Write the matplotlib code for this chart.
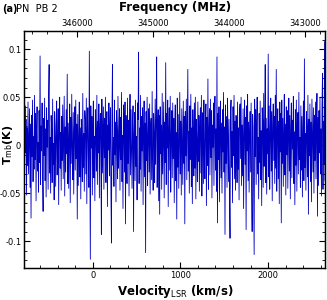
import numpy as np
import matplotlib
matplotlib.use("Agg")
import matplotlib.pyplot as plt
from matplotlib.ticker import MultipleLocator

# spectrum values (mK), one per channel
tmb_mk = [
    12, -35, 41, -8, 27, -52, 18, -21, 45, -30,
    5, 38, -44, 22, -76, 31, -12, 47, -38, 9,
    -25, 52, -15, 33, -58, 14, 40, -27, 3, -49,
    36, -18, 93, -41, 20, -6, 44, -33, -69, 28,
    -11, 49, -37, 17, -54, 39, -2, 26, -46, 55,
    84, -29, 8, -50, 31, 16, -39, 48, -20, 2,
    -57, 35, 21, -43, 10, 46, -31, -7, 38, -62,
    24, 50, -24, 13, -47, 30, -16, 42, -35, 6,
    51, -53, 19, -28, 37, -9, 74, -40, 23, -45,
    11, 43, -60, 29, -19, 53, -4, -36, 34, -51,
    15, 40, -26, 47, -14, 22, -77, 32, -42, 7,
    45, -33, 18, -56, 27, 3, -38, 54, -23, 12,
    -48, 36, 25, -30, 49, -61, 16, 39, -12, -44,
    98, -22, -119, 41, -3, 30, -52, 20, 46, -34,
    9, -58, 37, 14, -27, 52, -41, 25, -8, 43,
    -55, 19, 33, -17, -93, 48, -29, 6, 40, -46,
    28, -13, 50, -39, 11, 35, -64, 21, -5, 44,
    -32, 17, 39, -49, -102, 30, 84, -21, 8, -43,
    47, -10, 24, -59, 36, 13, -35, 51, -24, 2,
    38, -47, 29, -15, 55, -38, 10, -66, 42, 20,
    -28, 45, -82, 31, 4, -40, 49, -19, 26, -53,
    16, 53, -31, 37, -8, -45, 22, 41, -90, 12,
    34, -37, 47, -22, 9, -57, 44, 27, 97, -40,
    18, -25, 52, -48, 30, -6, 39, -62, 14, 46,
    -33, 23, -112, 35, -16, 50, -42, 7, 38, -28,
    43, -51, 19, 28, -36, 56, -12, -47, 33, 11,
    -39, 48, -20, 26, 92, -44, 15, 37, -58, 31,
    -72, 40, -9, 21, -46, 54, -30, 12, 45, -55,
    24, -18, 86, -41, 33, -3, 47, -64, 17, 39,
    -26, 51, -49, 10, 36, -34, 44, -14, 28, -60,
    20, 42, -37, 13, -77, 49, -23, 32, -45, 6,
    55, -30, 25, -52, 38, 1, -41, 46, -19, 30,
    -82, 35, -11, 48, -36, 22, 79, -27, 14, -50,
    41, -15, 53, -43, 18, -61, 37, 9, -32, 44,
    -24, 50, -56, 27, 3, -38, 45, -17, 31, -48,
    16, 39, -29, 52, -53, 11, 34, -40, 47, -8,
    -35, 24, 43, -63, 29, -21, 69, -46, 15, 38,
    -31, 48, -13, 36, -55, 21, -2, 44, -42, 26,
    51, -26, 17, -48, 92, -81, 33, -15, 40, -59,
    8, 46, -34, 23, -50, 37, -7, 55, -28, 19,
    -93, 42, -19, 30, -44, 49, 12, -38, 27, -54,
    -97, 34, 47, -23, 14, -60, 40, -11, 52, -35,
    25, -47, 31, 6, -39, 45, -25, 18, -57, 36,
    43, -14, 50, -42, 21, -32, 38, -66, 10, 47,
    -20, 29, -88, 41, -6, 53, -37, 24, -49, 13,
    35, -28, 44, -45, -90, 32, 19, -53, -114, 48,
    -12, 37, -41, 22, 50, -30, 8, -56, 33, -18,
    46, -36, 15, -63, 39, 26, -44, 54, -22, 4,
    84, -39, 28, -51, 17, -9, 95, -33, 41, -46,
    11, 49, -27, 35, -58, 20, 43, -16, 30, -40,
    52, -24, 79, -48, 13, 38, -35, 25, -61, 45,
    -7, 33, -81, 47, -19, 28, -43, 16, 53, -31,
    22, -52, 40, -10, 36, -45, 9, 49, -27, 31,
    -56, 18, 44, -34, 26, -4, 51, -40, 14, -62,
    37, -21, 47, -48, 23, 34, -30, 55, -15, 8,
    -44, 41, -26, 30, -54, 16, 46, -37, 90, -23,
    12, -47, 35, 19, -33, 52, -72, 27, -11, 43,
    -38, 24, -59, 48, 6, -28, 39, -50, 31, -16,
    45, -35, 20, 54, -74, 29, -42, 36, -8, 50,
    -30, 17, -53, 41, 75, -46, 25, -20, 108, -37,
]
v_start, v_end = -785, 2650          # km/s, first / last channel
f_rest = 345796.0                    # MHz, CO 3-2
c_kms = 299792.458
ytick_vals = [-0.1, -0.05, 0, 0.05, 0.1]
ytick_text = ["-0.1", "-0.05", "0", "0.05", "0.1"]

tmb = np.array(tmb_mk) / 1000.0
vel = np.linspace(v_start, v_end, len(tmb))

fig = plt.figure(figsize=(3.27, 3.0), dpi=100)
ax = fig.add_axes([24 / 327, 1 - 268 / 300, 301 / 327, 237 / 300])
ax.plot(vel, tmb, color="#0000c0", lw=0.6)

ax.set_xlim(v_start, v_end)
ax.set_ylim(-0.128, 0.119)
ax.xaxis.set_major_locator(MultipleLocator(1000))
ax.xaxis.set_minor_locator(MultipleLocator(200))
ax.yaxis.set_minor_locator(MultipleLocator(0.01))
ax.set_yticks(ytick_vals)
ax.set_yticklabels(ytick_text)
ax.tick_params(which="both", direction="in", right=True, labelsize=6, pad=2)
ax.tick_params(which="major", length=4)
ax.tick_params(which="minor", length=2.5)

ax2 = ax.twiny()
ax2.set_xlim(f_rest * (1 - v_start / c_kms), f_rest * (1 - v_end / c_kms))
ax2.xaxis.set_major_locator(MultipleLocator(1000))
ax2.xaxis.set_minor_locator(MultipleLocator(200))
ax2.tick_params(which="both", direction="in", labelsize=6, pad=2)
ax2.tick_params(which="major", length=4)
ax2.tick_params(which="minor", length=2.5)

fig.text(8 / 327, 1 - 145 / 300, r"T$_{\rm mb}$(K)", fontsize=8, fontweight="bold",
         rotation=90, ha="center", va="center")
fig.text(175 / 327, 1 - 291 / 300, r"Velocity$_{\rm LSR}$ (km/s)", fontsize=8.5,
         fontweight="bold", ha="center", va="center")
fig.text(175 / 327, 1 - 7 / 300, "Frequency (MHz)", fontsize=8.5,
         fontweight="bold", ha="center", va="center")

fig.text(2 / 327, 1 - 9 / 300, "(a)", fontsize=7, fontweight="bold", va="center")
fig.text(16 / 327, 1 - 9 / 300, "PN  PB 2", fontsize=7, va="center")

for s in list(ax.spines.values()) + list(ax2.spines.values()):
    s.set_linewidth(0.9)

fig.savefig("out.png", dpi=100)
